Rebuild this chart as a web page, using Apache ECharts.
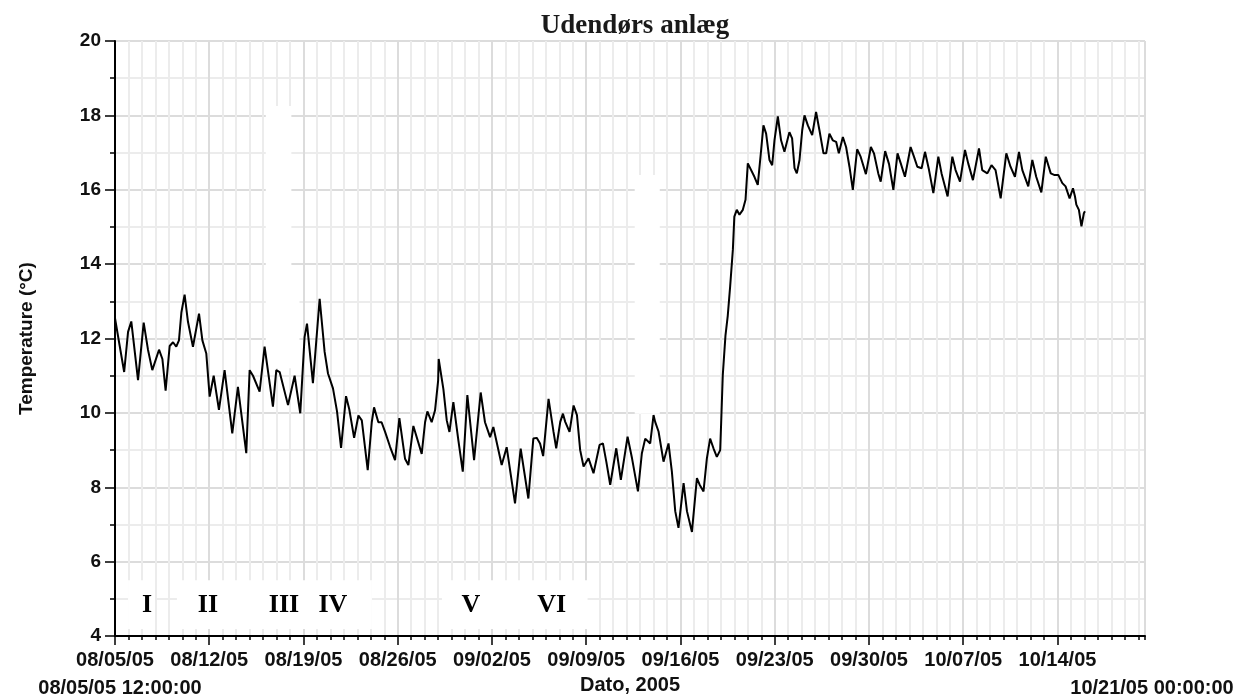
<!DOCTYPE html>
<html>
<head>
<meta charset="utf-8">
<title>Udendørs anlæg</title>
<script src="https://cdn.jsdelivr.net/npm/echarts@6/dist/echarts.min.js"></script>
<style>
    html, body { margin: 0; padding: 0; background: #fff; }
    #chart { width: 1248px; height: 700px; }
</style>
</head>
<body>
<div id="chart"></div>
<script>
    // dage efter 08/05/05 12:00:00
    const dayOffsets = [
        0.00, 0.35, 0.68, 0.97, 1.21, 1.71, 2.13, 2.45, 2.77, 3.27, 3.52, 3.76, 4.06, 4.31, 4.55, 4.75,
        4.93, 5.17, 5.42, 5.79, 6.24, 6.49, 6.78, 7.03, 7.33, 7.72, 8.14, 8.71, 9.13, 9.75, 10.00, 10.25,
        10.74, 11.11, 11.73, 11.98, 12.23, 12.85, 13.34, 13.76, 14.08, 14.26, 14.70, 15.20, 15.57, 15.82,
        16.19, 16.49, 16.79, 17.16, 17.40, 17.76, 18.08, 18.33, 18.77, 19.07, 19.24, 19.56, 19.80, 20.06,
        20.43, 20.80, 21.12, 21.54, 21.79, 22.16, 22.78, 23.03, 23.20, 23.52, 23.77, 24.00, 24.04, 24.39,
        24.64, 24.84, 25.13, 25.50, 25.83, 26.17, 26.67, 27.16, 27.48, 27.86, 28.10, 28.72, 29.09, 29.71,
        30.13, 30.70, 31.07, 31.32, 31.57, 31.80, 32.20, 32.57, 32.77, 33.07, 33.27, 33.44, 33.76, 34.06,
        34.31, 34.55, 34.80, 35.17, 35.54, 35.99, 36.24, 36.49, 36.78, 37.23, 37.57, 38.07, 38.40, 38.84,
        39.13, 39.38, 39.75, 40.00, 40.12, 40.37, 40.74, 41.11, 41.36, 41.61, 41.85, 42.23, 42.48, 42.85,
        43.22, 43.42, 43.71, 43.96, 44.20, 44.45, 44.70, 44.95, 45.04, 45.14, 45.34, 45.51, 45.69, 45.89,
        46.00, 46.18, 46.38, 46.63, 46.83, 47.00, 47.12, 47.49, 47.74, 47.99, 48.16, 48.36, 48.61, 48.81,
        48.98, 49.23, 49.47, 49.72, 50.09, 50.29, 50.47, 50.64, 50.84, 51.04, 51.21, 51.46, 51.78, 52.07,
        52.32, 52.62, 52.82, 53.06, 53.31, 53.56, 53.76, 54.06, 54.30, 54.55, 54.80, 55.12, 55.38, 55.77,
        56.14, 56.37, 56.69, 56.87, 57.20, 57.49, 57.81, 58.12, 58.36, 58.67, 59.09, 59.34, 59.59, 59.91,
        60.16, 60.46, 60.78, 61.15, 61.39, 61.84, 62.19, 62.43, 62.76, 63.13, 63.37, 63.72, 64.17, 64.41,
        64.79, 65.10, 65.40, 65.78, 66.20, 66.51, 66.84, 67.14, 67.39, 67.83, 68.13, 68.42, 68.80, 69.13,
        69.50, 69.75, 70.06, 70.36, 70.60, 70.90, 71.15, 71.30, 71.40, 71.59, 71.78, 71.96, 72.04
    ];
    const temperatures = [
        12.55, 11.80, 11.10, 12.18, 12.46, 10.88, 12.43, 11.70, 11.15, 11.70, 11.45, 10.60, 11.80, 11.90, 11.78, 11.95,
        12.70, 13.18, 12.45, 11.78, 12.67, 11.95, 11.60, 10.44, 11.00, 10.08, 11.15, 9.45, 10.70, 8.92, 11.15, 11.00,
        10.57, 11.78, 10.17, 11.15, 11.10, 10.21, 11.00, 9.99, 12.04, 12.40, 10.80, 13.07, 11.64, 11.06,
        10.66, 10.04, 9.06, 10.45, 10.10, 9.33, 9.93, 9.80, 8.46, 9.75, 10.15, 9.75, 9.75, 9.49,
        9.09, 8.73, 9.86, 8.77, 8.60, 9.65, 8.90, 9.75, 10.04, 9.75, 10.07, 10.87, 11.45, 10.64,
        9.80, 9.49, 10.29, 9.27, 8.42, 10.48, 8.73, 10.55, 9.75, 9.35, 9.62, 8.60, 9.08, 7.57,
        9.04, 7.70, 9.31, 9.33, 9.18, 8.84, 10.38, 9.49, 9.05, 9.76, 9.98, 9.76, 9.49, 10.20,
        9.94, 9.00, 8.56, 8.78, 8.38, 9.14, 9.18, 8.69, 8.07, 9.05, 8.20, 9.36, 8.78, 7.89,
        8.91, 9.31, 9.18, 9.94, 9.76, 9.50, 8.69, 9.18, 8.42, 7.36, 6.91, 8.11, 7.36, 6.80,
        8.25, 8.07, 7.89, 8.78, 9.31, 9.05, 8.82, 9.00, 9.94, 11.01, 12.08, 12.61, 13.41, 14.39,
        15.28, 15.46, 15.33, 15.46, 15.73, 16.71, 16.75, 16.35, 16.13, 17.07, 17.73, 17.51, 16.80, 16.66,
        17.33, 17.97, 17.33, 17.02, 17.55, 17.38, 16.58, 16.44, 16.80, 17.60, 18.00, 17.73, 17.47, 18.09,
        17.60, 16.98, 16.98, 17.51, 17.33, 17.29, 16.98, 17.42, 17.15, 16.62, 16.00, 17.09, 16.89, 16.42,
        17.15, 16.98, 16.44, 16.22, 17.04, 16.69, 16.00, 16.98, 16.71, 16.35, 17.15, 16.89, 16.62, 16.58,
        17.02, 16.53, 15.91, 16.89, 16.44, 15.82, 16.89, 16.53, 16.22, 17.07, 16.71, 16.26, 17.11, 16.53,
        16.44, 16.66, 16.53, 15.77, 16.98, 16.62, 16.35, 17.02, 16.53, 16.09, 16.80, 16.35, 15.93, 16.89,
        16.44, 16.40, 16.40, 16.18, 16.09, 15.77, 16.04, 15.82, 15.60, 15.46, 15.02, 15.37, 15.42
    ];
    // ugeetiketter for x-aksen
    const weekLabels = ['08/05/05', '08/12/05', '08/19/05', '08/26/05', '09/02/05', '09/09/05',
        '09/16/05', '09/23/05', '09/30/05', '10/07/05', '10/14/05'];

    // perioder I - VI
    const periodNames = ['I', 'II', 'III', 'IV', 'V', 'VI'];
    const periodDays = [2.38, 6.9, 12.55, 16.18, 26.43, 32.44];
    const periodLevel = 4.82;
    // hvide felter bag periodeteksterne: [fra dag, til dag, bund, top]
    const labelBoxes = [[0.97, 2.97, 4.19, 5.5], [4.6, 19.08, 4.19, 5.5], [24.28, 35.1, 4.19, 5.5]];
    // hvide pletter i gitteret
    const whitePatches = [[11.2, 11.9, 13.1, 18.25], [11.7, 11.2, 13.7, 13.1], [38.6, 9.98, 40.46, 16.4]];

    const axisFont = 'Liberation Sans';
    const myChart = echarts.init(document.getElementById('chart'));

    const boxAreas = labelBoxes.concat(whitePatches.map(p => [p[0], p[2], p[1], p[3]]))
        .map(b => [{xAxis: b[0], yAxis: b[2]}, {xAxis: b[1], yAxis: b[3]}]);

    myChart.setOption({
        animation: false,
        backgroundColor: '#fff',
        title: [
            {
                text: 'Udendørs anlæg',
                left: 630,
                top: 8,
                textAlign: 'center',
                textStyle: {fontFamily: 'Liberation Serif', fontWeight: 'bold', fontSize: 27, color: '#1a1a1a'}
            },
            {
                text: '08/05/05 12:00:00',
                left: 115,
                top: 673,
                textAlign: 'center',
                textStyle: {fontFamily: axisFont, fontWeight: 'bold', fontSize: 20, color: '#111'}
            },
            {
                text: '10/21/05 00:00:00',
                left: 1147,
                top: 673,
                textAlign: 'center',
                textStyle: {fontFamily: axisFont, fontWeight: 'bold', fontSize: 20, color: '#111'}
            }
        ],
        grid: {left: 115, right: 103, top: 41, bottom: 59},
        xAxis: [
            // daglige streger
            {
                type: 'value',
                position: 'bottom',
                min: 0,
                max: 76.5,
                interval: 1,
                axisLine: {show: false, onZero: false},
                axisTick: {length: 4, lineStyle: {color: '#000', width: 1.5}},
                axisLabel: {show: false},
                splitLine: {show: true, lineStyle: {color: '#ececec', width: 2}}
            },
            // ugestreger og etiketter
            {
                type: 'value',
                position: 'bottom',
                min: 0,
                max: 76.5,
                interval: 7,
                name: 'Dato, 2005',
                nameLocation: 'middle',
                nameGap: 35,
                nameTextStyle: {fontFamily: axisFont, fontWeight: 'bold', fontSize: 20, color: '#111'},
                axisLine: {show: true, onZero: false, lineStyle: {color: '#000', width: 2}},
                axisTick: {length: 9, lineStyle: {color: '#000', width: 1.5}},
                axisLabel: {
                    margin: 14,
                    showMaxLabel: false,
                    fontFamily: axisFont,
                    fontWeight: 'bold',
                    fontSize: 20,
                    color: '#111',
                    formatter: function (v) {
                        const i = v / 7;
                        return Number.isInteger(i) && weekLabels[i] ? weekLabels[i] : '';
                    }
                },
                splitLine: {show: true, lineStyle: {color: '#dcdcdc', width: 2}}
            }
        ],
        yAxis: {
            type: 'value',
            min: 4,
            max: 20,
            interval: 2,
            name: 'Temperature (°C)',
            nameLocation: 'middle',
            nameGap: 79,
            nameTextStyle: {fontFamily: axisFont, fontWeight: 'bold', fontSize: 19, color: '#111'},
            axisLine: {show: true, lineStyle: {color: '#000', width: 2}},
            axisTick: {show: true, length: 10, lineStyle: {color: '#000', width: 1.5}},
            minorTick: {show: true, splitNumber: 2, length: 5, lineStyle: {color: '#000', width: 1.5}},
            axisLabel: {margin: 14, fontFamily: axisFont, fontWeight: 'bold', fontSize: 19, color: '#111'},
            splitLine: {show: true, lineStyle: {color: '#dcdcdc', width: 2}},
            minorSplitLine: {show: true, lineStyle: {color: '#ececec', width: 2}}
        },
        series: [
            {
                name: 'Temperatur',
                type: 'line',
                xAxisIndex: 1,
                showSymbol: false,
                lineStyle: {color: '#000', width: 2},
                data: dayOffsets.map((d, i) => [d, temperatures[i]]),
                markArea: {
                    silent: true,
                    itemStyle: {color: '#fff', opacity: 1},
                    data: boxAreas
                }
            },
            {
                name: 'Perioder',
                type: 'scatter',
                xAxisIndex: 1,
                symbolSize: 0,
                z: 3,
                itemStyle: {opacity: 1},
                label: {
                    show: true,
                    position: 'inside',
                    formatter: '{b}',
                    fontFamily: 'Liberation Serif',
                    fontWeight: 'bold',
                    fontSize: 26,
                    color: '#000',
                    opacity: 1
                },
                data: periodDays.map((d, i) => ({name: periodNames[i], value: [d, periodLevel]}))
            }
        ]
    });
</script>
</body>
</html>
